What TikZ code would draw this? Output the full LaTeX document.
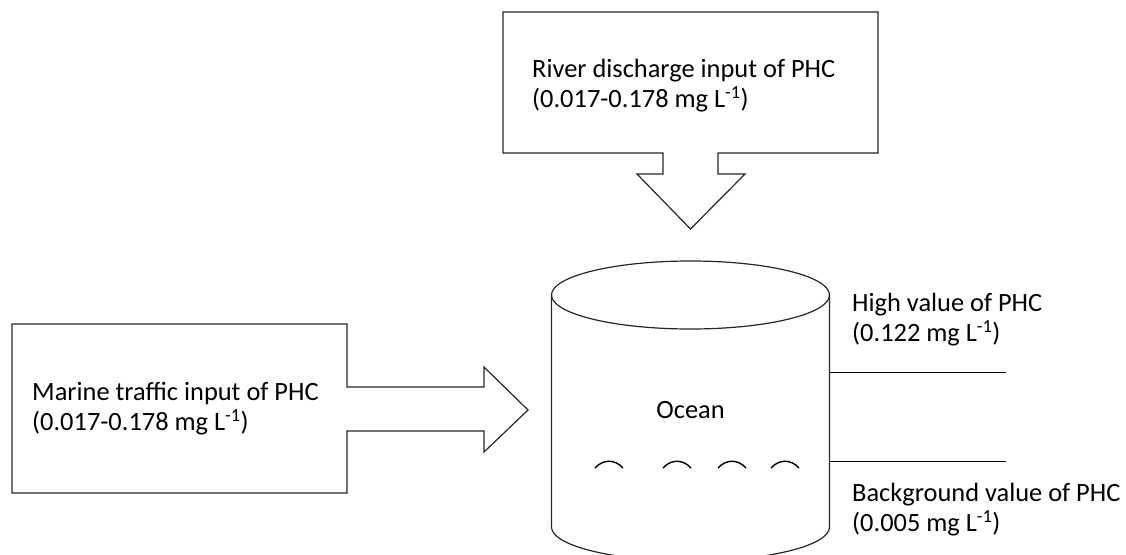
\documentclass[tikz,border=0pt]{standalone}
\usepackage{fontspec}
\setmainfont{Carlito}
\usetikzlibrary{calc}

\begin{document}
\begin{tikzpicture}[x=1pt,y=-1pt,
	txt/.style={align=left,anchor=base west,inner sep=0pt,font=\fontsize{26.4}{30}\selectfont},
	outline/.style={draw=black!85,line width=1.2pt},
	level/.style={draw=black,line width=1.6pt}]
	\useasboundingbox (0,0) rectangle (1126,554);
	% river discharge callout (box with arrow down)
	\draw[outline] (503,12) -- (878,12) -- (878,153) -- (718,153) -- (718,174) -- (745,174)
		-- (690.5,229) -- (637,174) -- (663,174) -- (663,153) -- (503,153) -- cycle;
	\node[txt] (river) at (532,107.5) {River discharge input of PHC\\(0.017-0.178 mg L\textsuperscript{-1})};
	% marine traffic callout (box with arrow right)
	\draw[outline] (12,324) -- (347,324) -- (347,387) -- (484,387) -- (484,367) -- (528,410)
		-- (484,452) -- (484,431) -- (347,431) -- (347,493) -- (12,493) -- cycle;
	\node[txt] (marine) at (32,430.5) {Marine traffic input of PHC\\(0.017-0.178 mg L\textsuperscript{-1})};
	% ocean cylinder
	\coordinate (cyltop) at (690.5,295);
	\coordinate (cylbot) at (690.5,527);
	\draw[outline] (cyltop) ellipse [x radius=139,y radius=34];
	\draw[outline] ($(cyltop)+(-139,0)$) -- ($(cylbot)+(-139,0)$)
		arc [start angle=180,end angle=360,x radius=139,y radius=-34] -- ($(cyltop)+(139,0)$);
	\node[font=\fontsize{26.4}{30}\selectfont,inner sep=0pt] (ocean) at (690.5,410) {Ocean};
	% waves
	\foreach \wx in {609,677,732,785}
		\draw[line width=1.4pt] (\wx-14,468) .. controls (\wx-6,459) and (\wx+6,459) .. (\wx+14,468);
	% level marks
	\coordinate (high) at (830,372.5);
	\coordinate (back) at (830,461.5);
	\draw[level] (high) -- ++(176,0);
	\draw[level] (back) -- ++(176,0);
	\node[txt] (highval) at (852,341.5) {High value of PHC\\(0.122 mg L\textsuperscript{-1})};
	\node[txt] (backval) at (852,531.5) {Background value of PHC\\(0.005 mg L\textsuperscript{-1})};
\end{tikzpicture}
\end{document}
